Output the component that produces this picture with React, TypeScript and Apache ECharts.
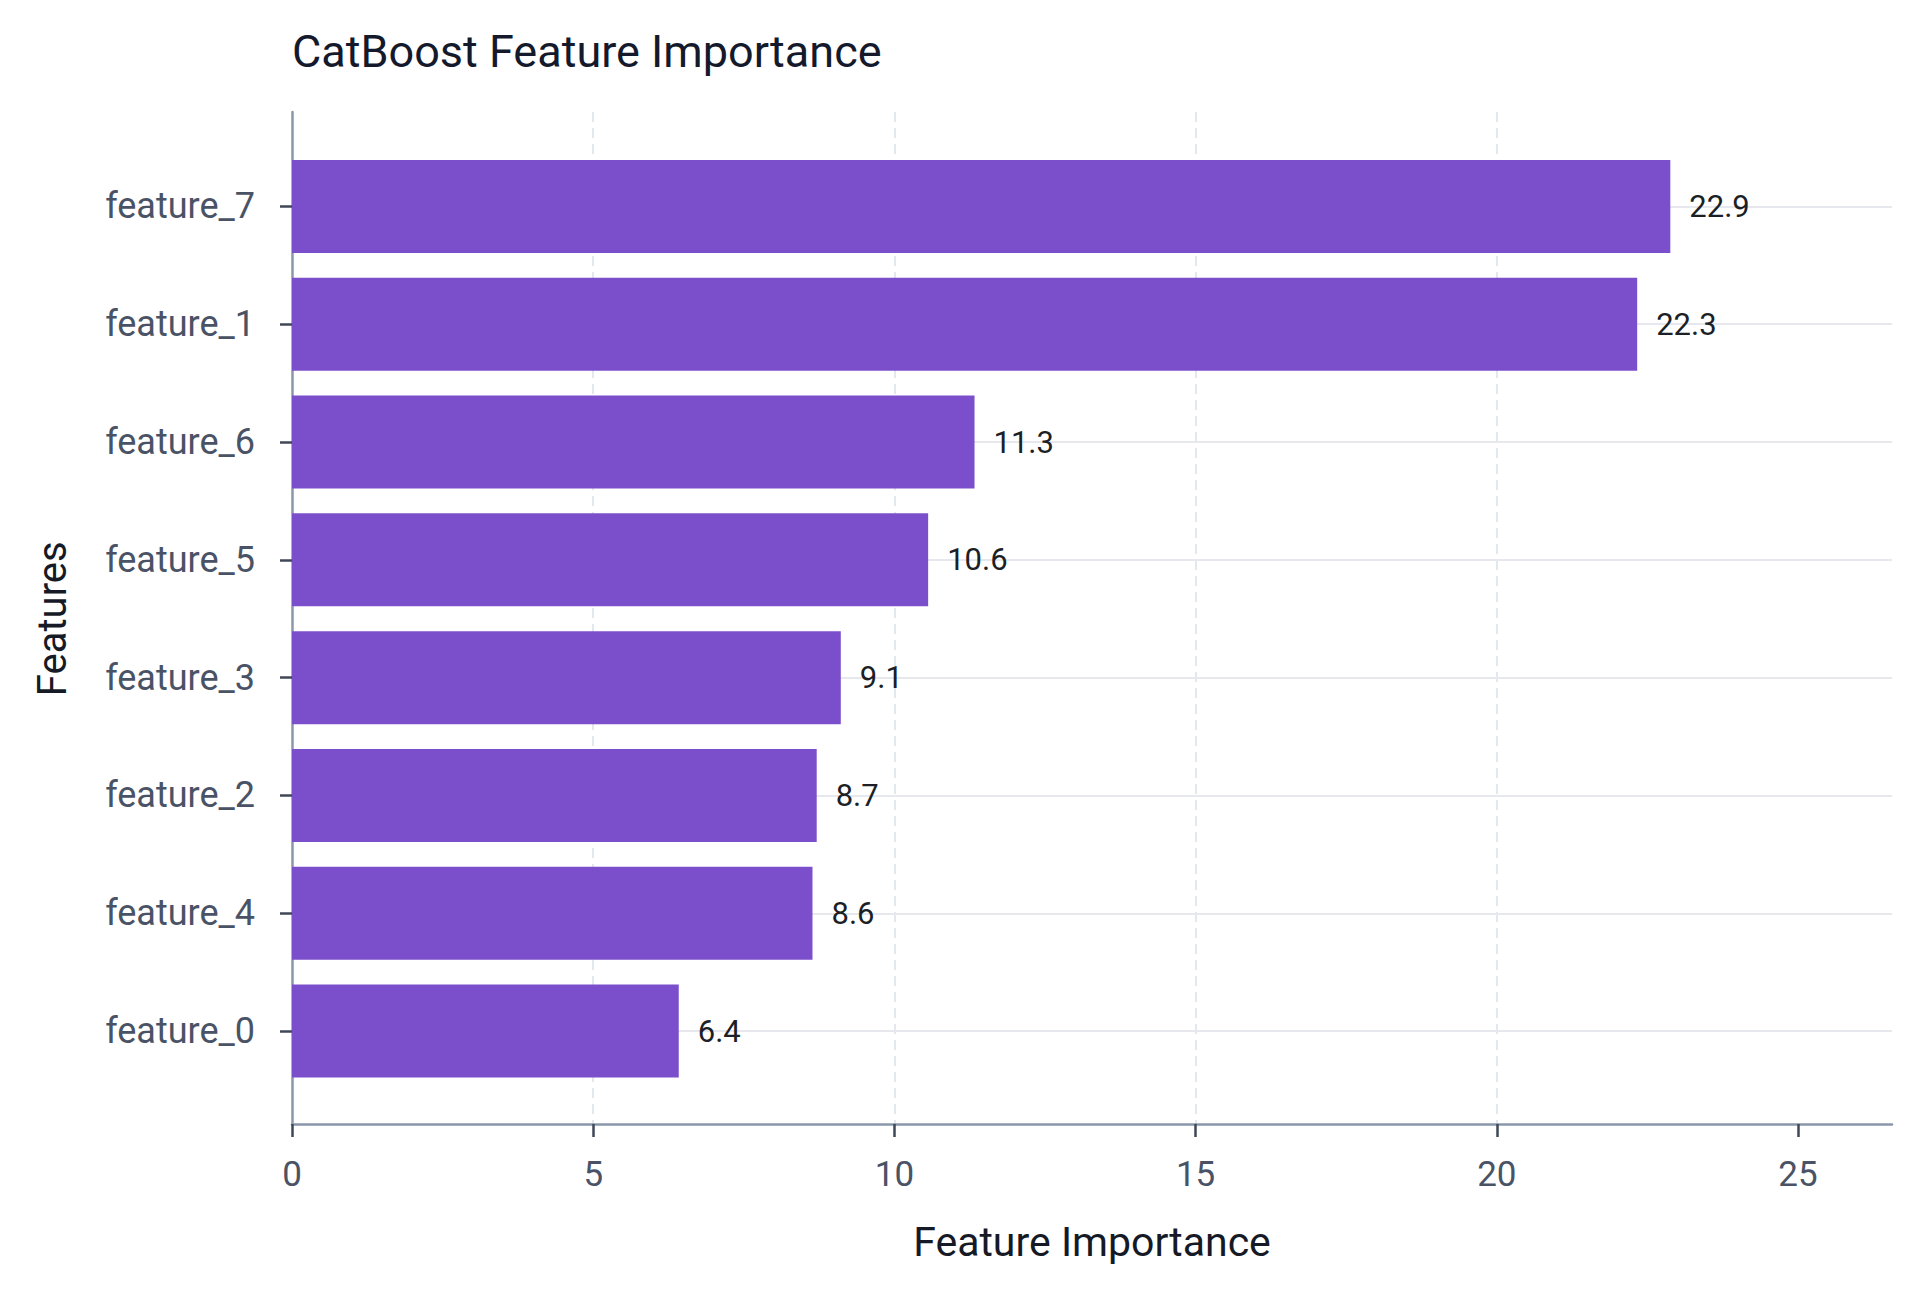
import { useEffect, useRef } from "react";
import * as echarts from "echarts";

const categories = [
  "feature_7",
  "feature_1",
  "feature_6",
  "feature_5",
  "feature_3",
  "feature_2",
  "feature_4",
  "feature_0",
];
const importance = [22.88, 22.33, 11.33, 10.56, 9.11, 8.71, 8.64, 6.42];
const xTicks = [0, 5, 10, 15, 20, 25];
const xMax = 26.56;

const FONT = "Roboto";
const c = {
  bar: "#7b4fcc",
  axis: "#8a97ab",
  tick: "#3f4858",
  tickLabel: "#4a5366",
  title: "#141a2b",
  name: "#151a26",
  value: "#1c1f26",
  hGrid: "#e6e8ee",
  vGrid: "#e3e7ee",
};

export default function App() {
  const ref = useRef<HTMLDivElement>(null);

  useEffect(() => {
    if (!ref.current) return;
    const chart = echarts.init(ref.current, undefined, { renderer: "svg" });

    chart.setOption({
      animation: false,
      backgroundColor: "#ffffff",
      textStyle: { fontFamily: FONT },
      title: {
        text: "CatBoost Feature Importance",
        left: 292,
        top: 29,
        padding: 0,
        textStyle: { fontSize: 45, fontWeight: "normal", color: c.title, fontFamily: FONT },
      },
      grid: [
        // bars
        { left: 292, right: 28, top: 147.5, bottom: 202 },
        // frame, x ticks, dashed grid
        { left: 292, right: 28, top: 112, bottom: 168 },
      ],
      xAxis: [
        { gridIndex: 0, type: "value", min: 0, max: xMax, show: false },
        {
          gridIndex: 1,
          type: "value",
          min: 0,
          max: xMax,
          interval: 5,
          name: "Feature Importance",
          nameLocation: "middle",
          nameGap: 97,
          nameTextStyle: { fontSize: 41, color: c.name, fontFamily: FONT },
          axisLine: { show: true, lineStyle: { color: c.axis, width: 2.5 } },
          axisTick: {
            show: true,
            length: 13,
            customValues: xTicks,
            lineStyle: { color: c.tick, width: 2.5 },
          },
          axisLabel: {
            customValues: xTicks,
            margin: 33,
            fontSize: 35,
            color: c.tickLabel,
            fontFamily: FONT,
          },
          splitLine: {
            show: true,
            showMinLine: false,
            showMaxLine: false,
            lineStyle: { type: [10, 6], color: c.vGrid, width: 2 },
          },
        },
      ],
      yAxis: [
        {
          gridIndex: 0,
          type: "category",
          data: categories,
          inverse: true,
          name: "Features",
          nameLocation: "middle",
          nameGap: 220,
          nameTextStyle: { fontSize: 40, color: c.name, fontFamily: FONT },
          axisLine: { show: false },
          axisTick: {
            show: true,
            alignWithLabel: true,
            length: 12,
            lineStyle: { color: c.tick, width: 2.5 },
          },
          axisLabel: { margin: 37, fontSize: 36, color: c.tickLabel, fontFamily: FONT },
          splitLine: { show: false },
        },
        {
          gridIndex: 1,
          type: "value",
          min: 0,
          max: 1,
          axisLine: { show: true, lineStyle: { color: c.axis, width: 2.5 } },
          axisTick: { show: false },
          axisLabel: { show: false },
          splitLine: { show: false },
        },
      ],
      series: [
        {
          type: "bar",
          xAxisIndex: 0,
          yAxisIndex: 0,
          data: importance,
          barWidth: 93,
          z: 3,
          itemStyle: { color: c.bar },
          label: {
            show: true,
            position: "right",
            distance: 19,
            fontSize: 31,
            color: c.value,
            fontFamily: FONT,
            formatter: (p: any) => (p.value as number).toFixed(1),
          },
          markLine: {
            silent: true,
            symbol: ["none", "none"],
            z: 1,
            label: { show: false },
            emphasis: { disabled: true },
            lineStyle: { color: c.hGrid, width: 2, type: "solid" },
            data: categories.map((name) => ({ yAxis: name })),
          },
        },
      ],
    });

    return () => chart.dispose();
  }, []);

  return (
    <div
      ref={ref}
      style={{ position: "fixed", left: 0, top: 0, width: 1920, height: 1292 }}
    />
  );
}
